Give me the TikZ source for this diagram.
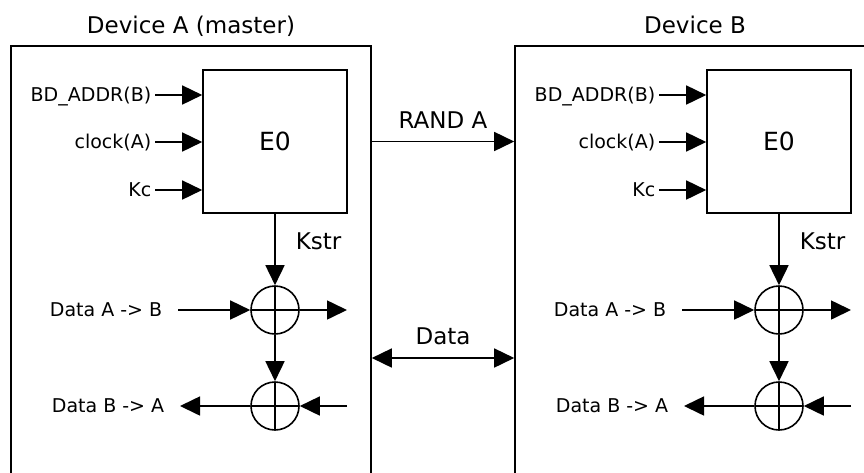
\documentclass[tikz,border=0pt]{standalone}
\usepackage{fontspec}
\setmainfont{DejaVu Sans}
\usetikzlibrary{arrows.meta,calc}

\begin{document}
\begin{tikzpicture}[x=1pt,y=-1pt,
    line width=1.6pt,
    >={Triangle[length=20pt,width=19pt]},
    device/.style={draw,minimum width=360pt,minimum height=480pt,inner sep=0pt},
    cipher/.style={draw,minimum width=144pt,minimum height=143pt,inner sep=0pt,
      font=\fontsize{25}{30}\selectfont},
    xorgate/.style={draw,circle,minimum size=48pt,inner sep=0pt,
      path picture={\draw (path picture bounding box.north) -- (path picture bounding box.south)
        (path picture bounding box.west) -- (path picture bounding box.east);}},
    inlbl/.style={inner sep=3pt,text height=17pt,text depth=3.3pt,
      font=\fontsize{19}{22}\selectfont},
    datalbl/.style={inlbl,inner xsep=15pt},
    biglbl/.style={inner sep=3pt,text height=20.7pt,text depth=3.9pt,
      font=\fontsize{23}{28}\selectfont}]
  \clip (0,0) rectangle (864,472);

  % device A (master)
  \node[device] (devA) at (191,286) {};
  \node[biglbl] (titleA) at (191,25) {Device A (master)};
  \node[cipher] (encA) at (275,141.5) {E0};
  \node[inlbl,anchor=east] (addrA) at (155,95) {BD\_ADDR(B)};
  \node[inlbl,anchor=east] (clkA) at (155,142) {clock(A)};
  \node[inlbl,anchor=east] (kcA) at (155,190) {Kc};
  \draw[->] (addrA) -- (addrA -| encA.west);
  \draw[->] (clkA) -- (clkA -| encA.west);
  \draw[->] (kcA) -- (kcA -| encA.west);
  \node[xorgate] (xorA1) at (275,310) {};
  \node[xorgate] (xorA2) at (275,406) {};
  \node[biglbl,anchor=west] (kstrA) at (292,241.5) {Kstr};
  \draw[->] (encA) -- (xorA1);
  \draw[->] (xorA1) -- (xorA2);
  \node[datalbl,anchor=east] (abA) at (178,310) {Data A -> B};
  \node[datalbl,anchor=east] (baA) at (180,406) {Data B -> A};
  \coordinate (outA) at (347,310);
  \coordinate (inA) at (347,406);
  \draw[->] (abA) -- (xorA1);
  \draw[->] (xorA1) -- (outA);
  \draw[->] (inA) -- (xorA2);
  \draw[->] (xorA2) -- (baA);

  % device B
  \node[device] (devB) at (695,286) {};
  \node[biglbl] (titleB) at (695,25) {Device B};
  \node[cipher] (encB) at (779,141.5) {E0};
  \node[inlbl,anchor=east] (addrB) at (659,95) {BD\_ADDR(B)};
  \node[inlbl,anchor=east] (clkB) at (659,142) {clock(A)};
  \node[inlbl,anchor=east] (kcB) at (659,190) {Kc};
  \draw[->] (addrB) -- (addrB -| encB.west);
  \draw[->] (clkB) -- (clkB -| encB.west);
  \draw[->] (kcB) -- (kcB -| encB.west);
  \node[xorgate] (xorB1) at (779,310) {};
  \node[xorgate] (xorB2) at (779,406) {};
  \node[biglbl,anchor=west] (kstrB) at (796,241.5) {Kstr};
  \draw[->] (encB) -- (xorB1);
  \draw[->] (xorB1) -- (xorB2);
  \node[datalbl,anchor=east] (abB) at (682,310) {Data A -> B};
  \node[datalbl,anchor=east] (baB) at (684,406) {Data B -> A};
  \coordinate (outB) at (851,310);
  \coordinate (inB) at (851,406);
  \draw[->] (abB) -- (xorB1);
  \draw[->] (xorB1) -- (outB);
  \draw[->] (inB) -- (xorB2);
  \draw[->] (xorB2) -- (baB);

  % link between the devices
  \node[biglbl] (randlbl) at (443,120.5) {RAND A};
  \node[biglbl] (datalink) at (443,336.5) {Data};
  \coordinate (busmid) at ($(xorA1)!.5!(xorA2)$);
  \draw[->] (encA.east -| devA.east) -- (encA.east -| devB.west);
  \draw[<->] (busmid -| devA.east) -- (busmid -| devB.west);
\end{tikzpicture}
\end{document}
